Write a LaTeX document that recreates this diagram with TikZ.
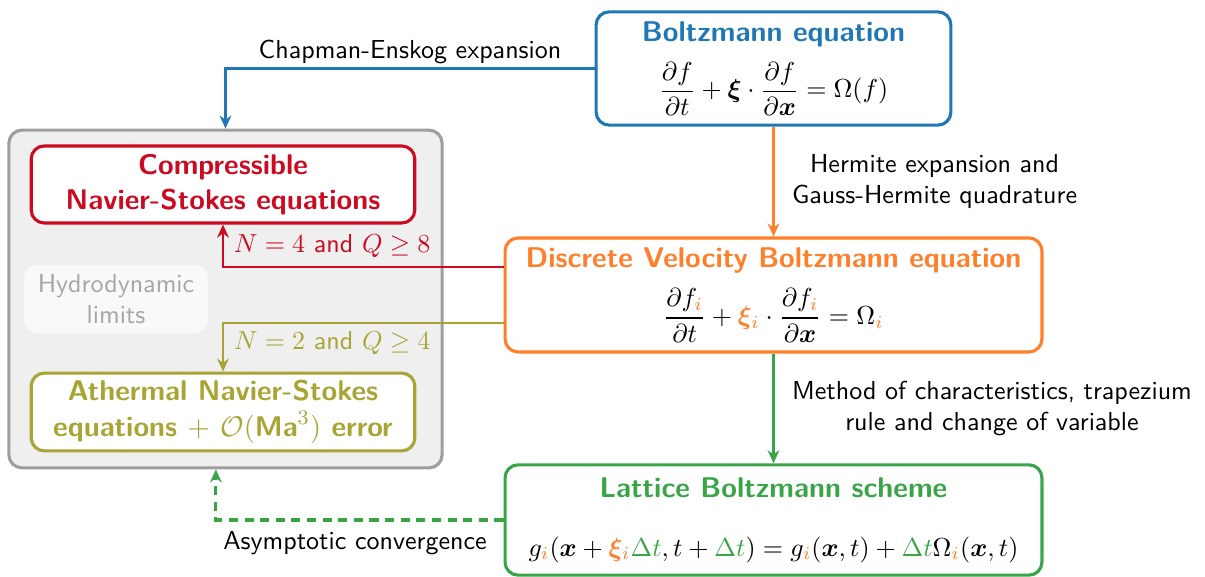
\documentclass[11pt,tikz,border=0pt]{standalone}
\usepackage{amsmath,amssymb,bm}
\usetikzlibrary{arrows.meta}
\renewcommand{\familydefault}{\sfdefault}
\definecolor{cblue}{HTML}{1F77B4}
\definecolor{corange}{HTML}{FF7F2A}
\definecolor{cgreen}{HTML}{3AA548}
\definecolor{cred}{HTML}{CC0A22}
\definecolor{colive}{HTML}{A8A534}
\definecolor{cgrayfill}{HTML}{EFEFEF}
\definecolor{cgrayline}{HTML}{9E9E9E}
\definecolor{climits}{HTML}{F9F9F9}
\definecolor{climtext}{HTML}{A6A6A6}
\newcommand{\ci}{\textcolor{corange}{i}}
\newcommand{\cdt}{\textcolor{cgreen}{\Delta t}}
\tikzset{
  >={Stealth[length=5pt,width=4.5pt]},
  eqbox/.style = {draw, line width=1.2pt, rounded corners=5pt, align=center, fill=white, inner sep=2pt},
  nsbox/.style = {draw, line width=1.2pt, rounded corners=5pt, align=center, fill=white, font=\bfseries, inner sep=2pt},
  link/.style = {line width=1pt},
  note/.style = {font=\small, align=center, text=black}
}

\begin{document}
\begin{tikzpicture}[x=0.0135cm,y=-0.0135cm]
  \useasboundingbox (0,0) rectangle (1205,577);
  %
  \node[eqbox, draw=cblue, minimum width=4.79cm, minimum height=1.53cm] (boltz) at (773.5,68.5)
    {\textcolor{cblue}{\bfseries Boltzmann equation}\\[5pt]
     {\small$\displaystyle\frac{\partial f}{\partial t}+\bm{\xi}\cdot\frac{\partial f}{\partial \bm{x}}=\Omega(f)$}};
  \node[eqbox, draw=corange, minimum width=7.25cm, minimum height=1.54cm] (dvbe) at (773.5,295)
    {\textcolor{corange}{\bfseries Discrete Velocity Boltzmann equation}\\[5pt]
     {\small$\displaystyle\frac{\partial f_{\ci}}{\partial t}+\textcolor{corange}{\bm{\xi}_{i}}\cdot\frac{\partial f_{\ci}}{\partial \bm{x}}=\Omega_{\ci}$}};
  \node[eqbox, draw=cgreen, minimum width=7.25cm, minimum height=1.49cm] (lbs) at (773.5,520)
    {\textcolor{cgreen}{\bfseries Lattice Boltzmann scheme}\\[9pt]
     {\small$g_{\ci}(\bm{x}+\textcolor{corange}{\bm{\xi}_{i}}\cdt,t+\cdt)=g_{\ci}(\bm{x},t)+\cdt\Omega_{\ci}(\bm{x},t)$}};
  %
  \node[draw=cgrayline, fill=cgrayfill, line width=1.2pt, rounded corners=5pt,
        minimum width=5.85cm, minimum height=4.56cm] (hydro) at (225.5,299) {};
  \node[fill=climits, rounded corners=5pt, text=climtext, font=\small, align=center,
        minimum width=2.48cm, minimum height=0.92cm] (hlim) at (116,299) {Hydrodynamic\\limits};
  \node[nsbox, draw=cred, text=cred, minimum width=5.18cm, minimum height=1.04cm] (cns) at (223,184.5)
    {Compressible\\Navier-Stokes equations};
  \node[nsbox, draw=colive, text=colive, minimum width=5.18cm, minimum height=1.05cm] (ans) at (223,412)
    {Athermal Navier-Stokes\\equations $+$ $\mathcal{O}(\text{Ma}^3)$ error};
  %
  \draw[link, cblue, ->] (boltz.west) -| (hydro.north)
    node[pos=0.25, above, inner sep=1.3pt, note] {Chapman-Enskog expansion};
  \draw[link, corange, ->] (boltz) -- (dvbe)
    node[midway, right=3pt, note] {Hermite expansion and\\Gauss-Hermite quadrature};
  \draw[link, cgreen, ->] (dvbe) -- (lbs)
    node[midway, right=3pt, note] {Method of characteristics, trapezium\\rule and change of variable};
  %
  \draw[link, cred, ->] ([yshift=0.38cm]dvbe.west) -| (cns.south)
    node[pos=0.75, right, font=\small] {$N=4$ and $Q\geq 8$};
  \draw[link, colive, ->] ([yshift=-0.38cm]dvbe.west) -| (ans.north)
    node[pos=0.7, right, font=\small] {$N=2$ and $Q\geq 4$};
  %
  \draw[link, line width=1.2pt, cgreen, dash pattern=on 3.5pt off 2.5pt, ->] (lbs.west) -| ([xshift=-0.13cm]hydro.south)
    node[pos=0.01, below left, note] {Asymptotic convergence};
\end{tikzpicture}
\end{document}
